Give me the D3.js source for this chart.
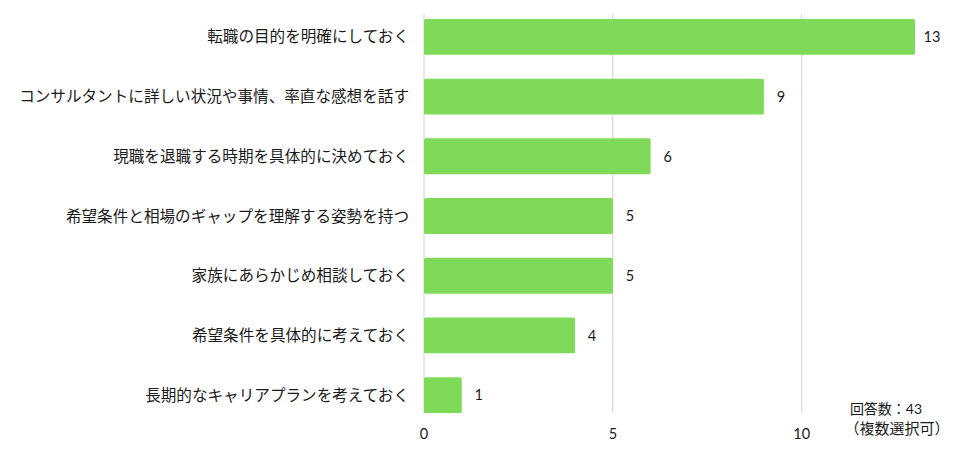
<!DOCTYPE html>
<html>
<head>
<meta charset="utf-8">
<script src="https://cdn.jsdelivr.net/npm/d3@7"></script>
<style>
  body { margin: 0; background: #fff; }
  text { font-family: Lato, "Noto Sans CJK JP", sans-serif; fill: #1a1a1a; }
</style>
</head>
<body>
<svg id="chart" width="976" height="459"></svg>
<script>
// Categories (top to bottom) and answer counts
const categories = [
    '転職の目的を明確にしておく',
    'コンサルタントに詳しい状況や事情、率直な感想を話す',
    '現職を退職する時期を具体的に決めておく',
    '希望条件と相場のギャップを理解する姿勢を持つ',
    '家族にあらかじめ相談しておく',
    '希望条件を具体的に考えておく',
    '長期的なキャリアプランを考えておく'
];
const counts = [13, 9, 6, 5, 5, 4, 1];
const ticks = [0, 5, 10];
const noteLines = ['回答数：43', '（複数選択可）'];

const svg = d3.select('#chart');

// Scales
const x = d3.scaleLinear().domain([0, 13]).range([424, 915]);
const y = d3.scaleBand().domain(categories).range([7, 425]).paddingInner(0.4).paddingOuter(0.2);

// Grid lines
svg.selectAll('.grid')
    .data(ticks)
    .enter().append('line')
    .attr('x1', d => x(d)).attr('x2', d => x(d))
    .attr('y1', 14).attr('y2', 413)
    .style('stroke', '#d0d0d0')
    .style('stroke-width', 1);

// Bars
svg.selectAll('.bar')
    .data(counts)
    .enter().append('rect')
    .attr('x', x(0))
    .attr('y', (d, i) => y(categories[i]))
    .attr('width', d => x(d) - x(0))
    .attr('height', y.bandwidth())
    .attr('rx', 1.5)
    .style('fill', '#80da5a');

// Value labels
svg.selectAll('.value')
    .data(counts)
    .enter().append('text')
    .attr('x', d => x(d) + 17)
    .attr('y', (d, i) => y(categories[i]) + y.bandwidth() / 2)
    .attr('dy', '0.36em')
    .attr('text-anchor', 'middle')
    .style('font-size', '14.5px')
    .text(d => d);

// Category labels
svg.selectAll('.cat')
    .data(categories)
    .enter().append('text')
    .attr('x', 409)
    .attr('y', d => y(d) + y.bandwidth() / 2)
    .attr('dy', '0.36em')
    .attr('text-anchor', 'end')
    .style('font-size', '15.6px')
    .text(d => d);

// X axis tick labels
svg.selectAll('.tick-label')
    .data(ticks)
    .enter().append('text')
    .attr('x', d => x(d))
    .attr('y', 439)
    .attr('text-anchor', 'middle')
    .style('font-size', '14.5px')
    .text(d => d);

// Note
svg.selectAll('.note')
    .data(noteLines)
    .enter().append('text')
    .attr('x', (d, i) => i === 0 ? 886 : 897)
    .attr('y', (d, i) => 414 + i * 20)
    .attr('text-anchor', 'middle')
    .style('font-size', (d, i) => i === 0 ? '14px' : '15px')
    .text(d => d);
</script>
</body>
</html>
